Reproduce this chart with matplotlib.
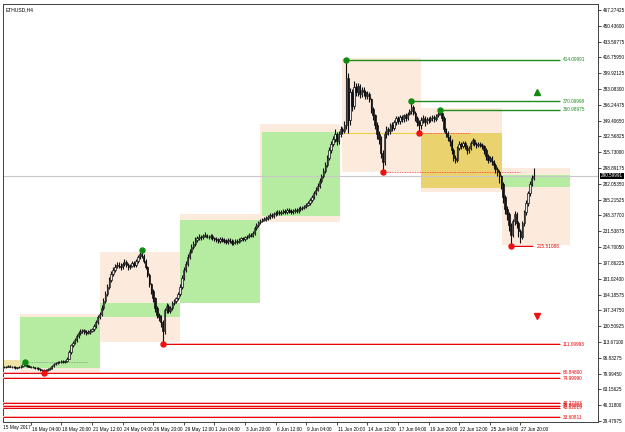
import matplotlib
matplotlib.use('Agg')
import matplotlib.pyplot as plt
import matplotlib.transforms as mtransforms
from matplotlib.patches import Rectangle
import numpy as np

plt.rcParams['font.family'] = ['Liberation Sans', 'DejaVu Sans']

# ETHUSD H4 candles (bar index 0 = leftmost bar)
opens = [
    87, 87.5, 87, 88, 87.5, 86.5, 87, 86, 86.5, 87,
    88, 90, 89, 88, 87.5, 87, 86.5, 86, 85.5, 85,
    84, 83.5, 83, 84, 85, 86, 88, 90, 91, 92,
    92.5, 93, 92, 93, 96, 103, 110, 113, 116, 120,
    123, 125, 126, 124, 123, 124, 125, 127, 131, 135,
    140, 143, 150, 157, 165, 172, 180, 186, 190, 194,
    196, 195, 193, 197, 199, 196, 193, 195, 198, 196,
    200, 204, 207, 205, 200, 193, 185, 175, 168, 160,
    150, 142, 140, 135, 125, 148, 152, 147, 150, 155,
    157, 160, 165, 172, 182, 190, 197, 204, 210, 215,
    218, 222, 224, 226, 225, 227, 228, 226, 225, 227,
    224, 223, 222, 221, 223, 222, 221, 220, 222, 221,
    219, 220, 221, 220, 222, 224, 223, 225, 226, 228,
    227, 230, 235, 238, 241, 243, 244, 245, 246, 247,
    249, 248, 250, 251, 252, 251, 252, 253, 252, 254,
    253, 252, 253, 254, 253, 255, 256, 257, 258, 260,
    262, 265, 268, 272, 276, 280, 285, 290, 296, 302,
    310, 318, 325, 330, 335, 328, 335, 340, 338, 345,
    395, 350, 380, 365, 385, 380, 386, 378, 382, 380,
    376, 378, 372, 362, 355, 345, 335, 330, 315, 305,
    335, 340, 338, 345, 342, 348, 352, 349, 353, 351,
    355, 352, 357, 360, 364, 358, 352, 348, 345, 350,
    352, 348, 351, 350, 352, 353, 351, 355, 357, 358,
    352, 340, 336, 332, 328, 318, 310, 307, 320, 325,
    322, 326, 322, 318, 320, 326, 329, 325, 323, 325,
    324, 322, 318, 312, 308, 310, 306, 302, 298, 295,
    290, 282, 268, 255, 250, 238, 228, 242, 250, 240,
    232, 225, 240, 252, 262, 272, 282, 288,
]
highs = [
    88.5, 88.5, 89, 89, 88.5, 88, 88, 87.5, 88, 89,
    91, 92.3, 90, 89, 88.5, 88, 87.5, 87, 86.5, 86,
    85, 84.5, 85, 86, 87.5, 89, 91, 92, 93, 93.5,
    94, 94, 94, 98, 105, 112, 115, 118, 122, 125,
    127, 128, 127, 126, 126, 127, 129, 133, 137, 142,
    146, 153, 160, 168, 175, 183, 189, 193, 197, 199,
    199, 198, 199, 202, 201, 198, 197, 200, 200, 202,
    206, 209, 211.6, 207, 202, 195, 187, 177, 170, 162,
    152, 145, 142, 137, 150, 155, 154, 152, 157, 159,
    162, 167, 175, 185, 193, 200, 207, 213, 218, 221,
    225, 227, 229, 228, 229, 231, 229, 228, 229, 229,
    226, 225, 224, 225, 225, 224, 223, 224, 224, 223,
    222, 223, 223, 224, 226, 226, 227, 228, 230, 230,
    232, 237, 240, 243, 245, 246, 247, 248, 249, 251,
    251, 252, 253, 254, 254, 254, 255, 255, 256, 256,
    255, 255, 256, 256, 257, 258, 259, 260, 262, 264,
    267, 270, 275, 279, 283, 288, 293, 299, 305, 313,
    321, 328, 333, 340, 337, 338, 344, 343, 349, 414.1,
    400, 384, 383, 392, 389, 390, 388, 385, 385, 382,
    381, 380, 374, 364, 357, 348, 338, 333, 318, 338,
    344, 343, 347, 348, 350, 354, 354, 355, 355, 357,
    358, 359, 362, 370.1, 366, 360, 354, 350, 353, 355,
    354, 353, 353, 354, 355, 355, 357, 359, 361, 359,
    354, 342, 338, 334, 330, 320, 313, 322, 328, 327,
    328, 328, 324, 322, 328, 331, 330, 327, 327, 327,
    326, 324, 320, 314, 312, 312, 308, 304, 300, 297,
    292, 284, 270, 258, 252, 240, 245, 253, 252, 242,
    234, 242, 254, 265, 275, 285, 292, 299,
]
lows = [
    86, 86, 86.5, 87, 85.5, 85.5, 85, 85, 85.5, 86,
    87, 88, 87, 86.5, 86, 85.5, 85, 84.5, 84, 83,
    82.5, 80.85, 82, 83, 84, 85, 87, 89, 90, 91,
    91.5, 91, 91, 92, 95, 101, 108, 111, 114, 118,
    121, 123, 122, 121, 122, 122, 124, 125, 129, 133,
    138, 141, 148, 155, 163, 170, 178, 184, 188, 192,
    192, 190, 191, 195, 194, 190, 191, 193, 194, 194,
    198, 202, 203, 198, 191, 183, 172, 165, 156, 146,
    139, 136, 130, 111.1, 122, 145, 144, 145, 148, 153,
    155, 158, 163, 170, 180, 188, 195, 202, 208, 213,
    216, 220, 222, 222, 223, 225, 224, 223, 223, 222,
    221, 220, 219, 219, 220, 219, 218, 218, 219, 217,
    217, 218, 218, 219, 221, 221, 221, 223, 224, 225,
    225, 228, 233, 236, 239, 241, 242, 243, 244, 245,
    246, 246, 248, 249, 249, 249, 250, 250, 250, 251,
    250, 250, 251, 251, 251, 253, 254, 255, 256, 258,
    260, 263, 266, 270, 274, 278, 283, 288, 294, 300,
    308, 315, 322, 327, 324, 325, 332, 335, 336, 340,
    336, 345, 360, 362, 376, 376, 374, 375, 376, 372,
    373, 369, 358, 350, 340, 330, 325, 310, 294.7, 302,
    331, 334, 335, 338, 339, 345, 346, 346, 348, 348,
    349, 350, 355, 357, 355, 349, 344, 336, 340, 347,
    344, 346, 347, 348, 349, 348, 349, 353, 355, 349,
    337, 332, 328, 322, 314, 306, 304, 305, 318, 319,
    320, 319, 314, 315, 318, 324, 322, 320, 321, 321,
    319, 314, 308, 304, 305, 302, 298, 294, 290, 283,
    277, 262, 250, 244, 232, 215.5, 225, 238, 235, 226,
    219, 223, 237, 249, 259, 269, 280, 286,
]
closes = [
    87.5, 87, 88, 87.5, 86.5, 87, 86, 86.5, 87, 88,
    90, 89, 88, 87.5, 87, 86.5, 86, 85.5, 85, 84,
    83.5, 83, 84, 85, 86, 88, 90, 91, 92, 92.5,
    93, 92, 93, 96, 103, 110, 113, 116, 120, 123,
    125, 126, 124, 123, 124, 125, 127, 131, 135, 140,
    143, 150, 157, 165, 172, 180, 186, 190, 194, 196,
    195, 193, 197, 199, 196, 193, 195, 198, 196, 200,
    204, 207, 205, 200, 193, 185, 175, 168, 160, 150,
    142, 140, 135, 125, 148, 152, 147, 150, 155, 157,
    160, 165, 172, 182, 190, 197, 204, 210, 215, 218,
    222, 224, 226, 225, 227, 228, 226, 225, 227, 224,
    223, 222, 221, 223, 222, 221, 220, 222, 221, 219,
    220, 221, 220, 222, 224, 223, 225, 226, 228, 227,
    230, 235, 238, 241, 243, 244, 245, 246, 247, 249,
    248, 250, 251, 252, 251, 252, 253, 252, 254, 253,
    252, 253, 254, 253, 255, 256, 257, 258, 260, 262,
    265, 268, 272, 276, 280, 285, 290, 296, 302, 310,
    318, 325, 330, 335, 328, 335, 340, 338, 345, 395,
    350, 380, 365, 385, 380, 386, 378, 382, 380, 376,
    378, 372, 362, 355, 345, 335, 330, 315, 305, 335,
    340, 338, 345, 342, 348, 352, 349, 353, 351, 355,
    352, 357, 360, 364, 358, 352, 348, 345, 350, 352,
    348, 351, 350, 352, 353, 351, 355, 357, 358, 352,
    340, 336, 332, 328, 318, 310, 307, 320, 325, 322,
    326, 322, 318, 320, 326, 329, 325, 323, 325, 324,
    322, 318, 312, 308, 310, 306, 302, 298, 295, 290,
    282, 268, 255, 250, 238, 228, 242, 250, 240, 232,
    225, 240, 252, 262, 272, 282, 288, 290.6,
]

# supply / demand zones: (first bar, last bar, low, high, kind)
zones = [
    (-0.5, 8.4, 85.9, 94.5, 'khaki'),
    (8.4, 50.2, 80.7, 143.5, 'peach'),
    (8.4, 50.2, 85.9, 140.3, 'green'),
    (50.2, 92.0, 113.6, 209.5, 'peach'),
    (50.2, 92.0, 140.3, 155.2, 'green'),
    (92.0, 133.9, 155.2, 250.0, 'peach'),
    (92.0, 133.9, 155.2, 243.6, 'green'),
    (133.9, 175.7, 241.5, 345.8, 'peach'),
    (135.0, 175.7, 247.8, 337.3, 'green'),
    (176.7, 218.0, 294.7, 416.1, 'peach'),
    (218.0, 260.4, 273.4, 362.9, 'peach'),
    (218.0, 260.4, 277.7, 336.3, 'yellow'),
    (260.4, 296.0, 216.9, 299.0, 'peach'),
    (260.4, 296.0, 278.7, 291.5, 'green'),
]
zone_colors = {'peach': '#fcebdd', 'green': '#b6eca2', 'yellow': '#ead36e', 'khaki': '#efe2a4'}

# swing points
swing_high_bars = [11, 72, 179, 213, 228]
swing_high_vals = [92.3, 211.6, 414.1, 370.1, 361.0]
swing_low_bars = [21, 83, 198, 217, 265]
swing_low_vals = [80.85, 111.1, 294.7, 336.3, 215.5]

# resistance levels (green) and support levels (red)
green_levels = [414.09991, 370.09998, 360.98975]
green_starts = [179, 213, 228]
red_levels = [111.09993, 80.84890, 74.99990, 48.27303, 45.80916, 43.62019, 33.60811]
red_starts = [83, -0.5, -0.5, -0.5, -0.5, -0.5, -0.5]
level_end = 290.7
last_low = 215.51088
last_price = 290.59991

tick_bars = [14 + 16 * k for k in range(17)]
x_labels = ['16 May 04:00', '18 May 20:00', '21 May 12:00', '24 May 04:00', '26 May 20:00',
            '29 May 12:00', '1 Jun 04:00', '3 Jun 20:00', '6 Jun 12:00', '9 Jun 04:00',
            '11 Jun 20:00', '14 Jun 12:00', '17 Jun 04:00', '19 Jun 20:00', '22 Jun 12:00',
            '25 Jun 04:00', '27 Jun 20:00']
y_ticks = [29.47975 + 16.83825 * k for k in range(27)]

fig = plt.figure(figsize=(6.25, 4.32), dpi=100)
fig.patch.set_facecolor('white')
ax = fig.add_axes([3 / 625, 10 / 432, 595 / 625, 418 / 432])
ax.set_xlim(-0.52, 310.6)
ax.set_ylim(28.41, 473.67)

for x0, x1, lo, hi, kind in zones:
    ax.add_patch(Rectangle((x0, lo), x1 - x0, hi - lo, facecolor=zone_colors[kind],
                           edgecolor='none', zorder=0))

ax.axhline(last_price, color='#c8c8c8', lw=0.8, zorder=1)

# dotted helper lines
ax.hlines(92.3, 11, 44, colors='#7a9a7a', lw=0.6, linestyles=(0, (1, 1)), zorder=2)
ax.hlines(294.7, 198, 270, colors='#ff3030', lw=0.6, linestyles=(0, (1, 1)), zorder=2)
ax.hlines(336.3, 217, 243.7, colors='#ff3030', lw=0.6, linestyles=(0, (1, 1)), zorder=2)
ax.hlines(336.3, 176.7, 217.5, colors='#f2cf3a', lw=0.8, zorder=2)

# candles
o = np.array(opens)
h = np.array(highs)
l = np.array(lows)
c = np.array(closes)
idx = np.arange(len(c))
ax.vlines(idx, l, h, colors='#101010', lw=0.8, zorder=3)
up = c >= o
ax.bar(idx[up], (c - o)[up], bottom=o[up], width=0.7, color='#e8e8e8',
       edgecolor='#101010', lw=0.5, zorder=4)
ax.bar(idx[~up], (o - c)[~up], bottom=c[~up], width=0.7, color='#101010',
       edgecolor='#101010', lw=0.5, zorder=4)

# levels
for lev, x0 in zip(green_levels, green_starts):
    ax.hlines(lev, x0, level_end, colors='#1e8c1e', lw=1.0, zorder=5)
    ax.text(level_end + 1.6, lev, f'{lev:.5f}', color='#1e8c1e', fontsize=3.4,
            ha='left', va='center', zorder=6)
for lev, x0 in zip(red_levels, red_starts):
    ax.hlines(lev, x0, level_end, colors='#ffb0b0', lw=1.4, zorder=5)
    ax.hlines(lev, x0, level_end, colors='#e60000', lw=0.7, zorder=5)
    ax.text(level_end + 1.6, lev, f'{lev:.5f}', color='#e60000', fontsize=3.4,
            ha='left', va='center', zorder=6)
ax.hlines(last_low, 265, 276.6, colors='#ffb0b0', lw=1.4, zorder=5)
ax.hlines(last_low, 265, 276.6, colors='#e60000', lw=0.7, zorder=5)
ax.text(278.5, last_low, f'{last_low:.5f}', color='#e60000', fontsize=3.4,
        ha='left', va='center', zorder=6)

ax.plot(swing_high_bars, swing_high_vals, 'o', color='#118a11', ms=3.6, zorder=7)
ax.plot(swing_low_bars, swing_low_vals, 'o', color='#f01010', ms=3.6, zorder=7)
ax.plot([278.7], [379.9], '^', color='#118a11', ms=4.5, zorder=7)
ax.plot([278.7], [141.3], 'v', color='#f01010', ms=4.5, zorder=7)

ax.text(0.004, 0.992, 'ETHUSD,H4', transform=ax.transAxes, fontsize=3.6,
        ha='left', va='top')

# axes styling
ax.yaxis.tick_right()
ax.set_yticks(y_ticks, labels=[f'{v:.5f}' for v in y_ticks])
ax.tick_params(axis='y', labelsize=3.3, length=2.5, width=0.5, pad=1.0)
ax.set_xticks(tick_bars, labels=x_labels)
ax.tick_params(axis='x', labelsize=3.4, length=2.5, width=0.5, pad=0.8)
shift = mtransforms.ScaledTranslation(1 / 100, 0, fig.dpi_scale_trans)
for lbl in ax.get_xticklabels():
    lbl.set_ha('left')
    lbl.set_transform(lbl.get_transform() + shift)
ax.text(-0.5, -0.006, '15 May 2017', transform=ax.get_xaxis_transform(),
        fontsize=3.4, ha='left', va='top')
ax.text(1.005, last_price, f'{last_price:.5f}', transform=ax.get_yaxis_transform(),
        fontsize=3.3, color='white', ha='left', va='center',
        bbox=dict(facecolor='black', edgecolor='none', pad=0.6))
for sp in ax.spines.values():
    sp.set_linewidth(0.7)
    sp.set_color('#404040')

fig.savefig('out.png', dpi=100, facecolor=fig.get_facecolor())
